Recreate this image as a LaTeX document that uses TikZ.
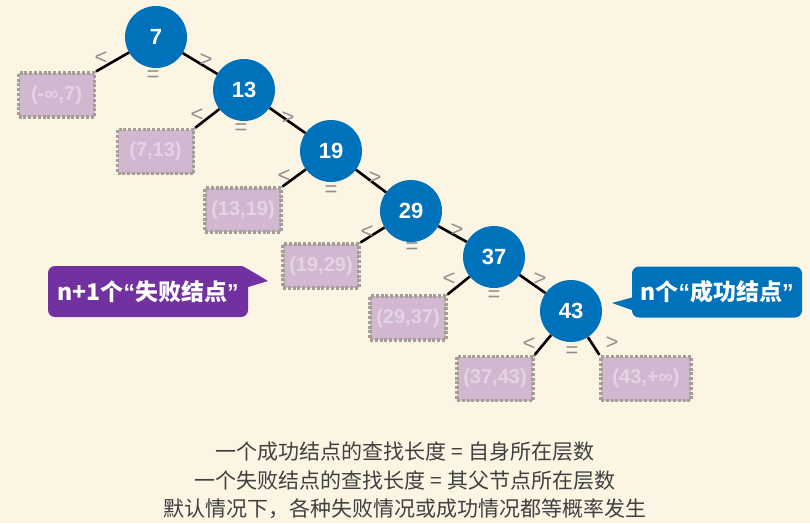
\documentclass[tikz,border=0pt]{standalone}
\usepackage{fontspec}
\setmainfont{Liberation Sans}
\newfontfamily\cjkfont{Noto Sans CJK SC}
\usetikzlibrary{shapes.misc}
\definecolor{bgcream}{HTML}{FCF5E3}
\definecolor{keyblue}{HTML}{0072BB}
\definecolor{leaffill}{HTML}{D1B7D0}
\definecolor{leafedge}{HTML}{A39E96}
\definecolor{leaftext}{HTML}{E4D3E4}
\definecolor{markgray}{HTML}{8F8F8F}
\definecolor{failpurple}{HTML}{7131A0}
\definecolor{notegray}{HTML}{404040}
% proportional quotation marks inside the callouts
\newcommand{\openq}{{\rmfamily\bfseries “}}
\newcommand{\closeq}{{\rmfamily\bfseries ”}}
\tikzset{
  keynode/.style={circle, fill=keyblue, minimum size=62pt, inner sep=0pt,
    text=white, font=\fontsize{22}{22}\selectfont\bfseries},
  leafbox/.style={draw=leafedge, fill=leaffill, line width=3.2pt,
    dash pattern=on 3pt off 1.8pt, minimum height=44pt, minimum width=76pt,
    inner sep=0pt, text=leaftext, font=\fontsize{20}{20}\selectfont\bfseries},
  edge/.style={line width=2.6pt, black},
  cmpmark/.style={text=markgray, font=\fontsize{22}{22}\selectfont, inner sep=0pt},
  callout/.style={rounded corners=7pt, inner sep=0pt, minimum height=51pt,
    text=white, font=\cjkfont\fontsize{23}{23}\selectfont\bfseries},
  note/.style={text=notegray, font=\cjkfont\fontsize{21}{21}\selectfont, inner sep=0pt}
}
\begin{document}
\begin{tikzpicture}[x=1pt,y=-1pt]
\fill[bgcream] (0,0) rectangle (810,523);
\useasboundingbox (0,0) rectangle (810,523);

% key nodes of the search tree
\node[keynode] (k7)  at (156,37)  {7};
\node[keynode] (k13) at (244,90)  {13};
\node[keynode] (k19) at (331,151) {19};
\node[keynode] (k29) at (411,211) {29};
\node[keynode] (k37) at (494,257) {37};
\node[keynode] (k43) at (571,311) {43};

% failure intervals
\node[leafbox] (f0) at (56.5,95)   {(-∞,7)};
\node[leafbox] (f1) at (155.5,151.5) {(7,13)};
\node[leafbox] (f2) at (243,210)   {(13,19)};
\node[leafbox] (f3) at (321,266)   {(19,29)};
\node[leafbox] (f4) at (408,318)   {(29,37)};
\node[leafbox] (f5) at (495,378.5) {(37,43)};
\node[leafbox, minimum width=90pt] (f6) at (646,378.5) {(43,+∞)};

% connectors
\draw[edge] (k7) -- (f0.north east);
\draw[edge] (k7) -- (k13);
\draw[edge] (k13) -- (f1.north east);
\draw[edge] (k13) -- (k19);
\draw[edge] (k19) -- (f2.north east);
\draw[edge] (k19) -- (k29);
\draw[edge] (k29) -- (f3.north east);
\draw[edge] (k29) -- (k37);
\draw[edge] (k37) -- (f4.north east);
\draw[edge] (k37) -- (k43);
\draw[edge] (k43) -- (f5.north east);
\draw[edge] (k43) -- (f6.north west);

% comparison marks
\node[cmpmark] (l7)  at (101,58)  {<};
\node[cmpmark] (e7)  at (153,76)  {=};
\node[cmpmark] (g7)  at (206,60)  {>};
\node[cmpmark] (l13) at (197,115) {<};
\node[cmpmark] (e13) at (241,129) {=};
\node[cmpmark] (g13) at (288,118) {>};
\node[cmpmark] (l19) at (284,176) {<};
\node[cmpmark] (e19) at (331,191) {=};
\node[cmpmark] (g19) at (375,178) {>};
\node[cmpmark] (l29) at (367,232) {<};
\node[cmpmark] (e29) at (412,248) {=};
\node[cmpmark] (g29) at (457,230) {>};
\node[cmpmark] (l37) at (449,279) {<};
\node[cmpmark] (e37) at (494,296) {=};
\node[cmpmark] (g37) at (540,279) {>};
\node[cmpmark] (l43) at (529,344) {<};
\node[cmpmark] (e43) at (572,352) {=};
\node[cmpmark] (g43) at (612,343) {>};

% callouts
\node[callout, fill=failpurple, minimum width=200pt] (cf) at (148,291.5) {n+1个\openq 失败结点\closeq};
\coordinate (cftip) at (268,281);
\fill[failpurple] ([yshift=23.5pt]cf.east) ++(-2,0) -- (cftip) -- ([yshift=4.5pt]cf.east) ++(-2,0) -- cycle;
\node[callout, fill=keyblue, minimum width=170pt] (cs) at (717,292) {n个\openq 成功结点\closeq};
\coordinate (cstip) at (612,303);
\fill[keyblue] ([yshift=-5pt]cs.west) ++(2,0) -- (cstip) -- ([yshift=-18pt]cs.west) ++(2,0) -- cycle;

% notes
\node[note] (n1) at (405,452) {一个成功结点的查找长度 = 自身所在层数};
\node[note] (n2) at (405,481) {一个失败结点的查找长度 = 其父节点所在层数};
\node[note] (n3) at (405,509) {默认情况下，各种失败情况或成功情况都等概率发生};
\end{tikzpicture}
\end{document}
